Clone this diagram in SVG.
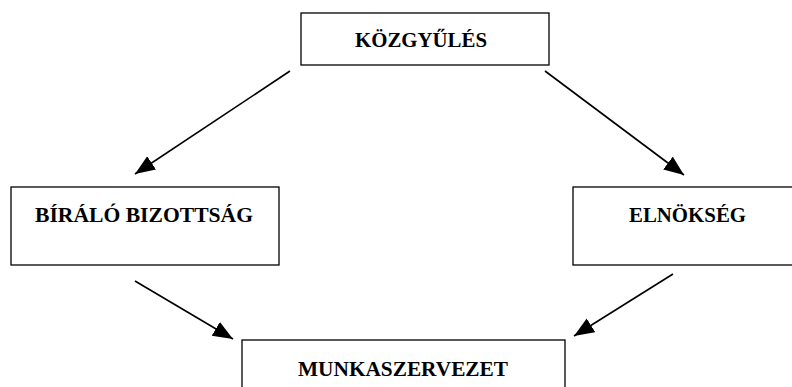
<svg xmlns="http://www.w3.org/2000/svg" width="792" height="387" viewBox="0 0 792 387">
  <style>
    .box { fill: #ffffff; stroke: #000000; stroke-width: 1.3; }
    .lbl { font-family: "Liberation Serif", "DejaVu Serif", serif; font-weight: bold; font-size: 22px; fill: #000000; text-anchor: middle; }
    .conn { stroke: #000000; stroke-width: 1.6; fill: none; marker-end: url(#arrow); }
  </style>
  <defs>
    <marker id="arrow" markerUnits="userSpaceOnUse" markerWidth="21" markerHeight="18" refX="20" refY="8" orient="auto">
      <path d="M0,0 L20,8 L0,16 Z" fill="#000000"/>
    </marker>
  </defs>
  <rect width="792" height="387" fill="#ffffff"/>
  <g id="connectors">
    <line class="conn" x1="290" y1="71" x2="135" y2="174"/>
    <line class="conn" x1="545" y1="71" x2="684" y2="175"/>
    <line class="conn" x1="135" y1="281" x2="233" y2="339"/>
    <line class="conn" x1="673" y1="274" x2="574" y2="336"/>
  </g>
  <g id="kozgyules">
    <rect class="box" x="301" y="13" width="248" height="52"/>
    <text class="lbl" x="421" y="47" textLength="132" lengthAdjust="spacingAndGlyphs">KÖZGYŰLÉS</text>
  </g>
  <g id="biralo-bizottsag">
    <rect class="box" x="11" y="187" width="268" height="78"/>
    <text class="lbl" x="144" y="222" textLength="218" lengthAdjust="spacingAndGlyphs">BÍRÁLÓ BIZOTTSÁG</text>
  </g>
  <g id="elnokseg">
    <rect class="box" x="573" y="187" width="229" height="78"/>
    <text class="lbl" x="687.5" y="222" textLength="117" lengthAdjust="spacingAndGlyphs">ELNÖKSÉG</text>
  </g>
  <g id="munkaszervezet">
    <rect class="box" x="242" y="340" width="323" height="60"/>
    <text class="lbl" x="403" y="376" textLength="210" lengthAdjust="spacingAndGlyphs">MUNKASZERVEZET</text>
  </g>
</svg>
